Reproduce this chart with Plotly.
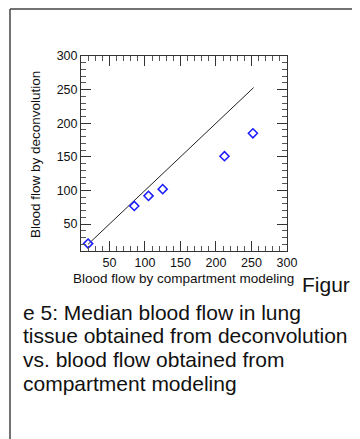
import plotly.graph_objects as go

# Data
compartment = [20, 85, 105, 125, 212, 252]
deconvolution = [21, 77, 92, 102, 151, 185]
identity_x = [20, 253]
identity_y = [20, 253]

x_title = "Blood flow by compartment modeling"
y_title = "Blood flow by deconvolution"
caption_lines = [
    "e 5: Median blood flow in lung",
    "tissue obtained from deconvolution",
    "vs. blood flow obtained from",
    "compartment modeling",
]

# the page body adds an 8px margin, so the figure is drawn 8px smaller/offset
OFF = 8
W, H = 360 - OFF, 439 - OFF
X0, X1, Y0, Y1 = 81 - OFF, 287 - OFF, 56 - OFF, 251 - OFF  # plot area in figure pixels


def px(x):  # x given in page pixels
    return (x - OFF - X0) / (X1 - X0)


def py(y):  # y given in page pixels
    return (Y1 - (y - OFF)) / (Y1 - Y0)


font = "Liberation Sans, Arial, sans-serif"

fig = go.Figure()
fig.add_trace(go.Scatter(x=identity_x, y=identity_y, mode="lines",
                         line=dict(color="#222222", width=1), showlegend=False))
fig.add_trace(go.Scatter(x=compartment, y=deconvolution, mode="markers",
                         marker=dict(symbol="diamond-open", color="#1a1aff", size=7,
                                     line=dict(width=1.5, color="#1a1aff")),
                         showlegend=False))

axis_common = dict(
    range=[10, 300], tick0=0, dtick=50, ticks="inside", ticklen=10, tickwidth=1,
    tickcolor="#333333", showline=True, linecolor="#333333", linewidth=1,
    mirror="ticks", showgrid=False, zeroline=False,
    tickfont=dict(family=font, size=12.5, color="#111111"),
    minor=dict(ticks="inside", ticklen=5, dtick=10, tick0=0, tickcolor="#555555", showgrid=False),
)
fig.update_xaxes(**axis_common)
fig.update_yaxes(**axis_common)

annotations = [
    dict(text=x_title, x=px(183.5), y=py(278), xref="paper", yref="paper",
         showarrow=False, xanchor="center", yanchor="middle",
         font=dict(family=font, size=13.5, color="#111111")),
    dict(text=y_title, x=px(35), y=py(155), xref="paper", yref="paper",
         showarrow=False, xanchor="center", yanchor="middle", textangle=-90,
         font=dict(family=font, size=13.5, color="#111111")),
    dict(text="Figur", x=px(300), y=py(284.4), xref="paper", yref="paper",
         showarrow=False, xanchor="left", yanchor="middle",
         font=dict(family=font, size=21, color="#111111")),
]
centers = [312, 335.4, 359.4, 383.4]
for line, cy in zip(caption_lines, centers):
    annotations.append(dict(text=line, x=px(21), y=py(cy), xref="paper", yref="paper",
                            showarrow=False, xanchor="left", yanchor="middle",
                            font=dict(family=font, size=21, color="#111111")))

shapes = [
    dict(type="line", xref="paper", yref="paper", x0=px(10), x1=px(10), y0=py(9), y1=py(445),
         line=dict(color="#444444", width=1.5)),
    dict(type="line", xref="paper", yref="paper", x0=px(10), x1=px(365), y0=py(9), y1=py(9),
         line=dict(color="#444444", width=1.5)),
]

fig.update_layout(
    width=W, height=H,
    margin=dict(l=X0, r=W - X1, t=Y0, b=H - Y1, pad=0),
    paper_bgcolor="white", plot_bgcolor="white",
    annotations=annotations, shapes=shapes,
    font=dict(family=font),
)

fig.write_html("out.html")
